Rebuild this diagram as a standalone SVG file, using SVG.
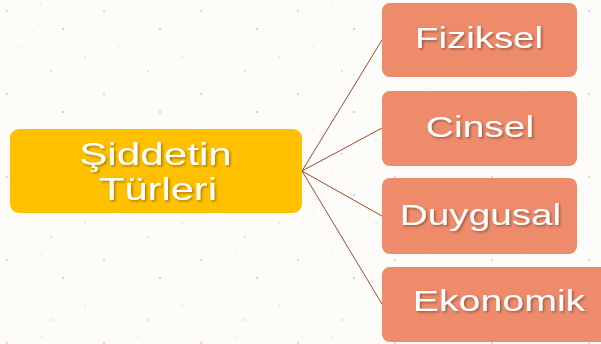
<svg xmlns="http://www.w3.org/2000/svg" width="601" height="344" viewBox="0 0 601 344">
<defs>
<style>
.bg{fill:#fdfcf8}
.main{fill:#ffc000}
.leaf{fill:#ee8b6b}
.t{fill:#ffffff;font-family:"Liberation Sans",Arial,sans-serif;text-anchor:middle;filter:url(#sh)}
.conn{stroke:#a4482a;stroke-width:1;fill:none}
</style>
<filter id="sh" x="-10%" y="-20%" width="130%" height="150%">
<feDropShadow dx="1.2" dy="1.5" stdDeviation="0.8" flood-color="#000" flood-opacity="0.35"/>
</filter>
<pattern id="dots" width="97" height="83" patternUnits="userSpaceOnUse">
<circle cx="7" cy="11" r="0.9" fill="#b9a7a7" opacity="0.6"/>
<circle cx="41" cy="5" r="0.7" fill="#d9b4c0" opacity="0.6"/>
<circle cx="63" cy="29" r="1" fill="#8d8d8d" opacity="0.5"/>
<circle cx="22" cy="47" r="0.7" fill="#e6d2a0" opacity="0.7"/>
<circle cx="85" cy="57" r="0.8" fill="#c9a9b9" opacity="0.6"/>
<circle cx="51" cy="71" r="0.9" fill="#9a9a9a" opacity="0.4"/>
<circle cx="12" cy="76" r="0.6" fill="#e0c0c8" opacity="0.6"/>
<circle cx="74" cy="13" r="0.6" fill="#f0e0a0" opacity="0.7"/>
<circle cx="33" cy="31" r="0.6" fill="#d0b8c8" opacity="0.6"/>
<circle cx="91" cy="38" r="0.6" fill="#bbbbbb" opacity="0.5"/>
</pattern>
</defs>
<rect class="bg" x="0" y="0" width="601" height="344"/>
<rect x="0" y="0" width="601" height="344" fill="url(#dots)"/>
<g id="connectors">
<line class="conn" x1="302" y1="171" x2="382" y2="40"/>
<line class="conn" x1="302" y1="171" x2="382" y2="128"/>
<line class="conn" x1="302" y1="171" x2="382" y2="216"/>
<line class="conn" x1="302" y1="171" x2="382" y2="304"/>
</g>
<g id="siddetin-turleri">
<rect class="main" x="10" y="129" width="292" height="84" rx="9"/>
<text class="t" transform="translate(155.5 165) scale(1.32 1)" font-size="32">Şiddetin</text>
<text class="t" transform="translate(158 200) scale(1.3 1)" font-size="32">Türleri</text>
</g>
<g id="fiziksel">
<rect class="leaf" x="382" y="3" width="195" height="74" rx="8"/>
<text class="t" transform="translate(479 48) scale(1.28 1)" font-size="30">Fiziksel</text>
</g>
<g id="cinsel">
<rect class="leaf" x="382" y="91" width="195" height="75" rx="8"/>
<text class="t" transform="translate(480 137) scale(1.3 1)" font-size="30">Cinsel</text>
</g>
<g id="duygusal">
<rect class="leaf" x="382" y="178" width="195" height="76" rx="8"/>
<text class="t" transform="translate(480.5 225) scale(1.29 1)" font-size="30">Duygusal</text>
</g>
<g id="ekonomik">
<rect class="leaf" x="382" y="267" width="235" height="75" rx="8"/>
<text class="t" transform="translate(499 311) scale(1.31 1)" font-size="30">Ekonomik</text>
</g>
</svg>
